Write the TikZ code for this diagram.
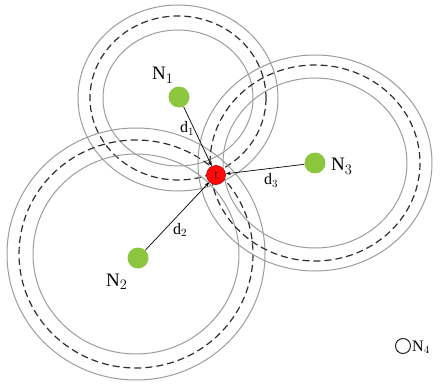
\documentclass[tikz,border=0pt]{standalone}
\usepackage{fontspec}
\setmainfont{Liberation Serif}
\usepackage{tikz}
\usetikzlibrary{positioning,arrows.meta}
\definecolor{sensorFill}{HTML}{8CC63F}
\definecolor{targetFill}{HTML}{FF0A0A}
\definecolor{targetDraw}{HTML}{B00000}
\definecolor{ringCol}{HTML}{9C9C9C}
\definecolor{ringMid}{HTML}{2E2E2E}

\begin{document}
\begin{tikzpicture}[
  x=1pt, y=-1pt,
  ring/.style={draw=ringCol, line width=1pt},
  ringmid/.style={draw=ringMid, line width=1.2pt, dash pattern=on 7pt off 4pt},
  sensor/.style={circle, fill=sensorFill, minimum size=21pt, inner sep=0pt},
  target/.style={circle, fill=targetFill, draw=targetDraw, line width=0.6pt,
                 minimum size=19pt, inner sep=0pt, text=black!70!red,
                 font=\fontsize{12}{14}\selectfont},
  idle/.style={circle, draw=black!85, line width=1pt, minimum size=15pt, inner sep=0pt},
  nlbl/.style={font=\fontsize{19}{21}\selectfont, inner sep=0pt, anchor=base west},
  dlbl/.style={font=\fontsize{16}{18}\selectfont, inner sep=0pt, anchor=base west},
  flow/.style={-{Stealth[length=5pt,width=3.5pt]}, line width=0.7pt, draw=black},
]
\useasboundingbox (0,0) rectangle (442,385);

% ---- Rings (outer / dashed / inner) ----
\draw[ring]    (178,98) ellipse [x radius=100, y radius=93];
\draw[ringmid] (178,98) ellipse [x radius=88,  y radius=82];
\draw[ring]    (178,98) ellipse [x radius=75,  y radius=68];

\draw[ring]    (136,254) ellipse [x radius=129, y radius=126];
\draw[ringmid] (136,254) ellipse [x radius=117, y radius=114];
\draw[ring]    (136,254) ellipse [x radius=103, y radius=100];

\draw[ring]    (315,163) ellipse [x radius=117, y radius=108];
\draw[ringmid] (315,163) ellipse [x radius=105, y radius=98];
\draw[ring]    (315,163) ellipse [x radius=92,  y radius=85];

% ---- Nodes ----
\node[sensor] (n1) at (179,97)  {};
\node[sensor] (n2) at (138,258) {};
\node[sensor] (n3) at (315,163) {};
\node[target] (t)  at (216,175) {t};
\node[idle]   (n4) at (403,346) {};

% ---- Distances ----
\draw[flow] (n1) -- (t);
\draw[flow] (n2) -- (t);
\draw[flow] (n3) -- (t);

% ---- Labels ----
\node[nlbl] (l1) at (152,80)  {N$_1$};
\node[nlbl] (l2) at (106,286) {N$_2$};
\node[nlbl] (l3) at (331,171) {N$_3$};
\node[nlbl, font=\fontsize{16}{18}\selectfont] (l4) at (412,351) {N$_4$};
\node[dlbl] (d1) at (180,133) {d$_1$};
\node[dlbl] (d2) at (173,234) {d$_2$};
\node[dlbl] (d3) at (264,185) {d$_3$};

\end{tikzpicture}
\end{document}
